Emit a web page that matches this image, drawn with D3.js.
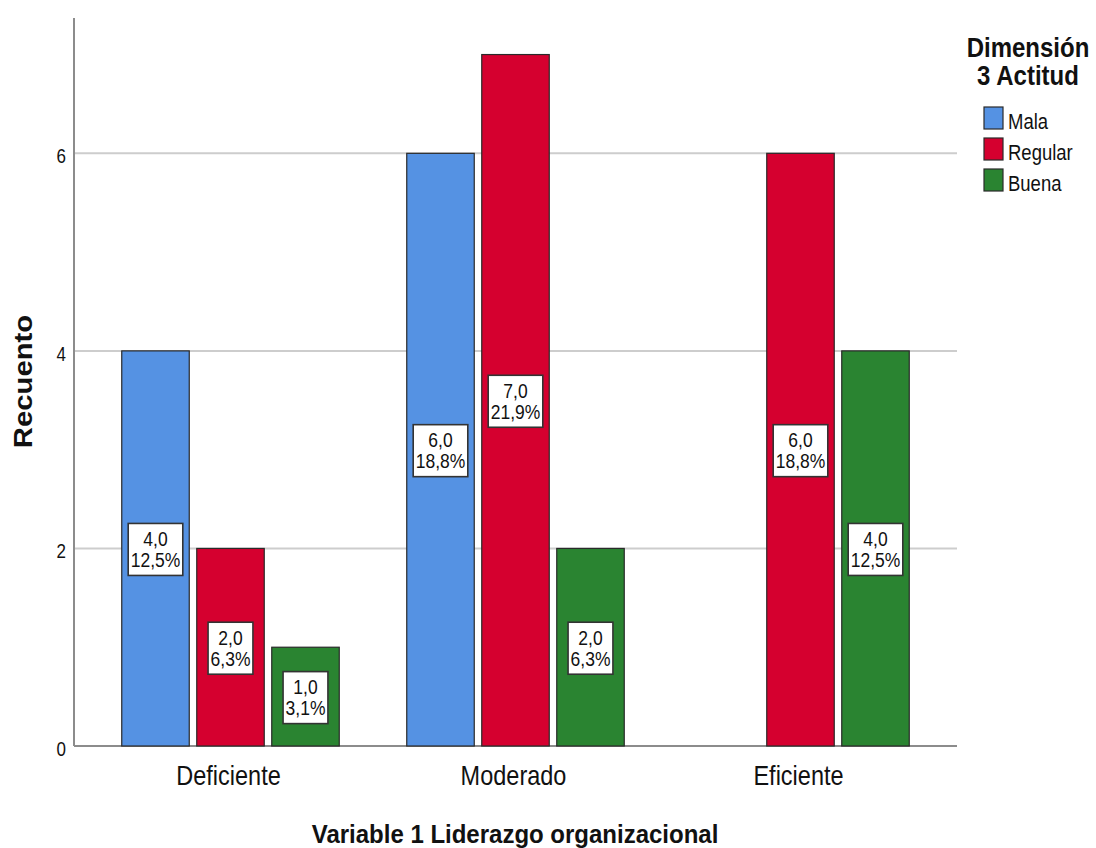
<!DOCTYPE html>
<html>
<head>
<meta charset="utf-8">
<script src="https://cdn.jsdelivr.net/npm/d3@7"></script>
<style>
  html, body { margin: 0; padding: 0; background: #fff; }
  svg { display: block; font-family: Arial, "Liberation Sans", sans-serif; }
</style>
</head>
<body>
<svg id="chart" width="1096" height="848"></svg>
<script>
// Counts per leadership level, split by attitude dimension
const categories = ["Deficiente", "Moderado", "Eficiente"];
const seriesNames = ["Mala", "Regular", "Buena"];
const malaValues = [4, 6, null];
const regularValues = [2, 7, 6];
const buenaValues = [1, 2, 4];
const yTicks = [0, 2, 4, 6];
const totalCount = 32;

const seriesValues = [malaValues, regularValues, buenaValues];
const colors = ["#5592e3", "#d5002f", "#2a8431"];

const svg = d3.select("#chart");
const SY = 1.15; // vertical text stretch

const x0 = d3.scaleBand().domain(categories).range([88, 943]);
const x1 = d3.scaleBand().domain(seriesNames).range([30, 255])
  .paddingInner(0.1).paddingOuter(0.05);
const y = d3.scaleLinear().domain([0, 7.37]).range([746, 18]);

const locale = d3.formatLocale({ decimal: ",", thousands: ".", grouping: [3], currency: ["", "€"] });
const fmtVal = locale.format(".1f");
const fmtPct = v => locale.format(".1f")(v) + "%";

function addText(parent, x, yy, str, opts) {
  const t = parent.append("text")
    .attr("transform", `translate(${x},${yy}) scale(1,${opts.sy || SY})${opts.rotate ? " rotate(" + opts.rotate + ")" : ""}`)
    .attr("text-anchor", opts.anchor || "start")
    .attr("font-size", opts.size)
    .attr("font-weight", opts.weight || "normal")
    .attr("fill", opts.fill || "#111")
    .text(str);
  return t;
}

// Gridlines
svg.append("g").selectAll("line")
  .data(yTicks.filter(d => d > 0))
  .join("line")
  .attr("x1", 74).attr("x2", 957)
  .attr("y1", d => y(d)).attr("y2", d => y(d))
  .attr("stroke", "#cdcdcd").attr("stroke-width", 2);

// Axes
svg.append("line").attr("x1", 74).attr("x2", 74).attr("y1", y(7.37)).attr("y2", y(0))
  .attr("stroke", "#8c8c8c").attr("stroke-width", 2);
svg.append("line").attr("x1", 74).attr("x2", 957).attr("y1", y(0)).attr("y2", y(0))
  .attr("stroke", "#8c8c8c").attr("stroke-width", 2);

// Y tick labels
yTicks.forEach(t => addText(svg, 66, y(t) + 10, String(t), { size: 17, anchor: "end" }));

// X tick labels
categories.forEach(c => addText(svg, x0(c) + x0.bandwidth() / 2 - 2, 784.5, c, { size: 23.5, anchor: "middle" }));

// Bars
const bars = [];
categories.forEach((c, ci) => {
  seriesNames.forEach((s, si) => {
    const v = seriesValues[si][ci];
    if (v == null) return;
    bars.push({ c, s, si, v });
  });
});

const barG = svg.append("g");
barG.selectAll("rect")
  .data(bars)
  .join("rect")
  .attr("x", d => x0(d.c) + x1(d.s))
  .attr("y", d => y(d.v))
  .attr("width", x1.bandwidth())
  .attr("height", d => y(0) - y(d.v))
  .attr("fill", d => colors[d.si])
  .attr("stroke", "#2a2a2a").attr("stroke-width", 1.2);

// Value labels inside bars
bars.forEach(d => {
  const cx = x0(d.c) + x1(d.s) + x1.bandwidth() / 2;
  const cy = y(d.v / 2);
  const g = svg.append("g");
  const box = g.append("rect");
  const t1 = addText(g, cx, cy - 2.5, fmtVal(d.v), { size: 17.5, anchor: "middle" });
  const t2 = addText(g, cx, cy + 18.5, fmtPct(d.v / totalCount * 100), { size: 17.5, anchor: "middle" });
  const w = Math.max(t1.node().getComputedTextLength(), t2.node().getComputedTextLength()) + 5;
  box.attr("x", cx - w / 2).attr("y", cy - 25).attr("width", w).attr("height", 52)
    .attr("fill", "#fff").attr("stroke", "#333").attr("stroke-width", 1.6);
});

// Axis titles
addText(svg, 515, 843, "Variable 1 Liderazgo organizacional", { size: 24, weight: "bold", anchor: "middle", sy: 1.06 });
addText(svg, 32, 381.5, "Recuento", { size: 25.5, weight: "bold", anchor: "middle", rotate: -90 });

// Legend
addText(svg, 1028, 57, "Dimensión", { size: 24, weight: "bold", anchor: "middle" });
addText(svg, 1028, 85, "3 Actitud", { size: 24, weight: "bold", anchor: "middle" });
seriesNames.forEach((s, i) => {
  const top = 107 + i * 31;
  svg.append("rect").attr("x", 984).attr("y", top).attr("width", 19).attr("height", 22)
    .attr("fill", colors[i]).attr("stroke", "#2a2a2a").attr("stroke-width", 1.2);
  addText(svg, 1008, top + 22, s, { size: 18.5 });
});
</script>
</body>
</html>
